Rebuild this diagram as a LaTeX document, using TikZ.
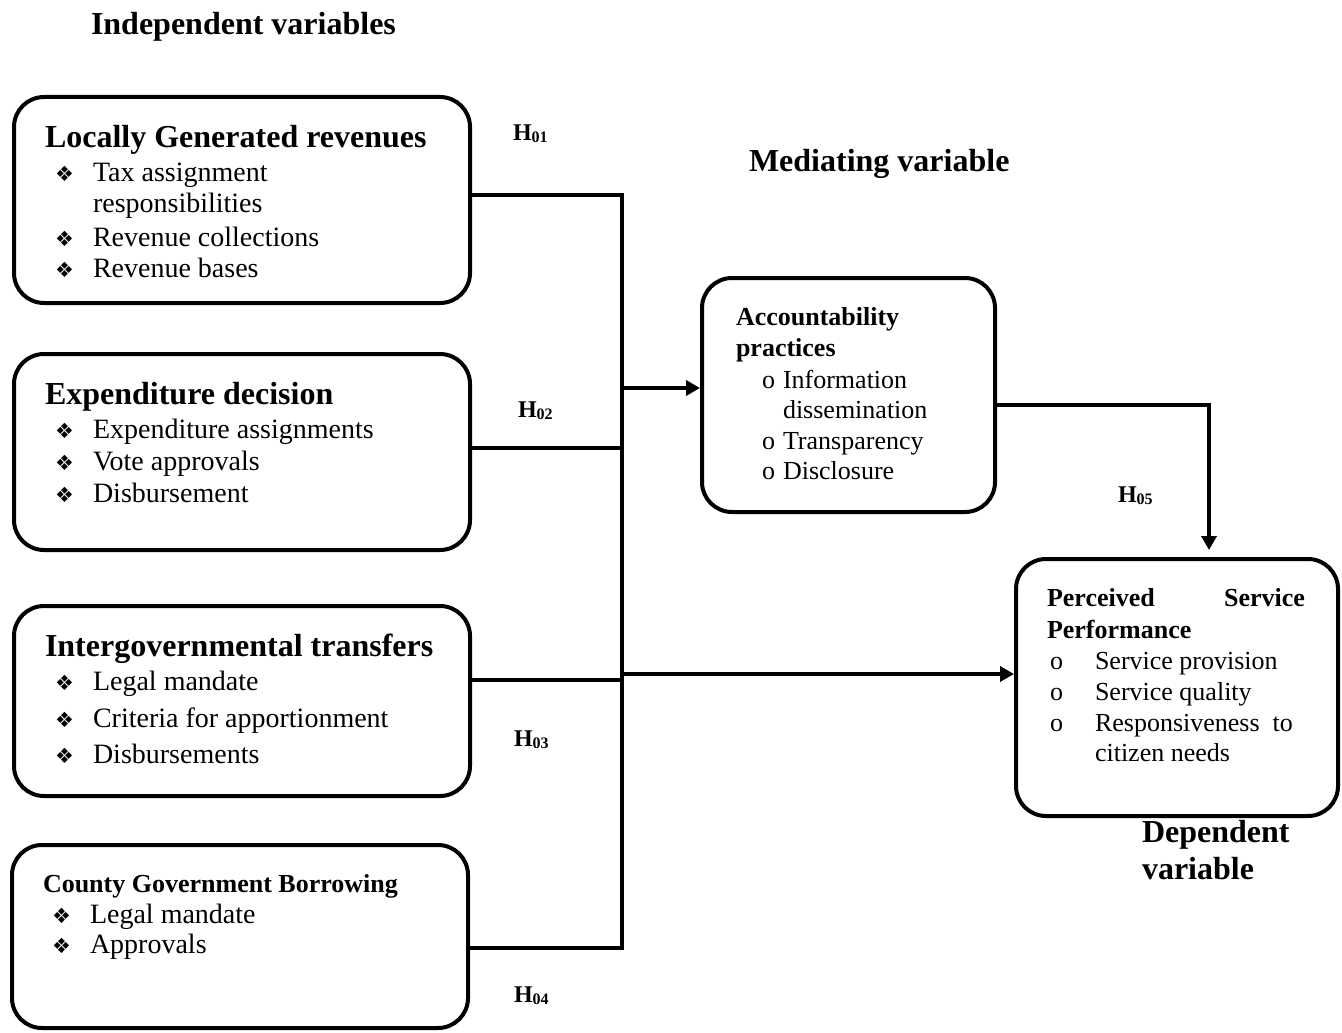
\documentclass[tikz,border=0pt]{standalone}
\usepackage{fontspec}
\setmainfont{Liberation Serif}
\newfontfamily\dejavu{DejaVu Sans}
\usetikzlibrary{arrows.meta}
\tikzset{
  box/.style={draw, line width=2pt, rounded corners=15pt, inner sep=0pt},
  conn/.style={line width=2.2pt},
  arr/.style={line width=2.2pt, -{Triangle[length=7pt,width=7.5pt]}},
  txt/.style={anchor=base west, inner sep=0pt, outer sep=0pt},
  ttl/.style={txt, font=\fontsize{16}{16}\selectfont\bfseries},
  itm/.style={txt, font=\fontsize{14}{14}\selectfont},
  sttl/.style={txt, font=\fontsize{13}{13}\selectfont\bfseries},
  sitm/.style={txt, font=\fontsize{13}{13}\selectfont},
  hd/.style={txt, font=\fontsize{16}{16}\selectfont\bfseries},
  hyp/.style={txt, font=\fontsize{12}{12}\selectfont\bfseries},
  dia/.style={txt, font=\dejavu\fontsize{10.5}{10.5}\selectfont},
}
\newcommand{\hsub}[1]{H\raisebox{-1pt}{\fontsize{8}{8}\selectfont #1}}
\begin{document}
\begin{tikzpicture}[x=0.5pt,y=-0.5pt]
\useasboundingbox (0,0) rectangle (1342,1032);

% headings
\node[hd] (hind) at (91,35) {Independent variables};
\node[hd] (hmed) at (749,172) {Mediating variable};
\node[hd] (hdep1) at (1142,842) {Dependent};
\node[hd] (hdep2) at (1142,879) {variable};

% boxes
\node[box, minimum width=228pt, minimum height=103pt] (b1) at (242,200) {};
\node[box, minimum width=228pt, minimum height=98pt] (b2) at (242,452) {};
\node[box, minimum width=228pt, minimum height=95pt] (b3) at (242,701) {};
\node[box, minimum width=228pt, minimum height=91.5pt] (b4) at (240,936.5) {};
\node[box, minimum width=146.5pt, minimum height=117pt] (med) at (848.5,395) {};
\node[box, minimum width=161pt, minimum height=128.5pt] (dv) at (1177,687.5) {};

% box 1
\node[ttl] (t1) at (45,148) {Locally Generated revenues};
\node[dia] (d11) at (55,182) {❖};
\node[itm] (i11) at (93,182) {Tax assignment};
\node[itm] (i12) at (93,213) {responsibilities};
\node[dia] (d13) at (55,247) {❖};
\node[itm] (i13) at (93,247) {Revenue collections};
\node[dia] (d14) at (55,278) {❖};
\node[itm] (i14) at (93,278) {Revenue bases};

% box 2
\node[ttl] (t2) at (45,404) {Expenditure decision};
\node[dia] (d21) at (55,438) {❖};
\node[itm] (i21) at (93,438) {Expenditure assignments};
\node[dia] (d22) at (55,470) {❖};
\node[itm] (i22) at (93,470) {Vote approvals};
\node[dia] (d23) at (55,502) {❖};
\node[itm] (i23) at (93,502) {Disbursement};

% box 3
\node[ttl] (t3) at (45,656) {Intergovernmental transfers};
\node[dia] (d31) at (55,690) {❖};
\node[itm] (i31) at (93,690) {Legal mandate};
\node[dia] (d32) at (55,727) {❖};
\node[itm] (i32) at (93,727) {Criteria for apportionment};
\node[dia] (d33) at (55,763) {❖};
\node[itm] (i33) at (93,763) {Disbursements};

% box 4
\node[sttl] (t4) at (43,892) {County Government Borrowing};
\node[dia] (d41) at (52,923) {❖};
\node[itm] (i41) at (90,923) {Legal mandate};
\node[dia] (d42) at (52,953) {❖};
\node[itm] (i42) at (90,953) {Approvals};

% mediating box
\node[sttl] (tm1) at (736,325) {Accountability};
\node[sttl] (tm2) at (736,356) {practices};
\node[sitm] (mo1) at (762,388) {o};
\node[sitm] (mi1) at (783,388) {Information};
\node[sitm] (mi2) at (783,418) {dissemination};
\node[sitm] (mo3) at (762,449) {o};
\node[sitm] (mi3) at (783,449) {Transparency};
\node[sitm] (mo4) at (762,479) {o};
\node[sitm] (mi4) at (783,479) {Disclosure};

% dependent box
\node[sttl] (td1) at (1047,606) {\makebox[129pt][s]{Perceived\hfill Service}};
\node[sttl] (td2) at (1047,638) {Performance};
\node[sitm] (do1) at (1050,669) {o};
\node[sitm] (di1) at (1095,669) {Service provision};
\node[sitm] (do2) at (1050,700) {o};
\node[sitm] (di2) at (1095,700) {Service quality};
\node[sitm] (do3) at (1050,731) {o};
\node[sitm] (di3) at (1095,731) {Responsiveness\ \ to};
\node[sitm] (di4) at (1095,761) {citizen needs};

% hypothesis labels
\node[hyp] (h1) at (513,141) {\hsub{01}};
\node[hyp] (h2) at (518,417) {\hsub{02}};
\node[hyp] (h3) at (514,746) {\hsub{03}};
\node[hyp] (h4) at (514,1002) {\hsub{04}};
\node[hyp] (h5) at (1118,502) {\hsub{05}};

% connectors
\coordinate (j1) at (622,195);
\coordinate (j2) at (622,448);
\coordinate (j3) at (622,680);
\coordinate (j4) at (622,948);
\coordinate (jm) at (622,388);
\coordinate (jd) at (622,674);
\coordinate (k) at (1209,405);
\coordinate (kend) at (1209,550);

\draw[conn] (b1.east |- j1) -- (j1) -- (j4) -- (b4.east |- j4);
\draw[conn] (b2.east |- j2) -- (j2);
\draw[conn] (b3.east |- j3) -- (j3);
\draw[arr] (jm) -- (med.west |- jm);
\draw[arr] (jd) -- (dv.west |- jd);
\draw[arr] (med.east |- k) -- (k) -- (kend);
\end{tikzpicture}
\end{document}
